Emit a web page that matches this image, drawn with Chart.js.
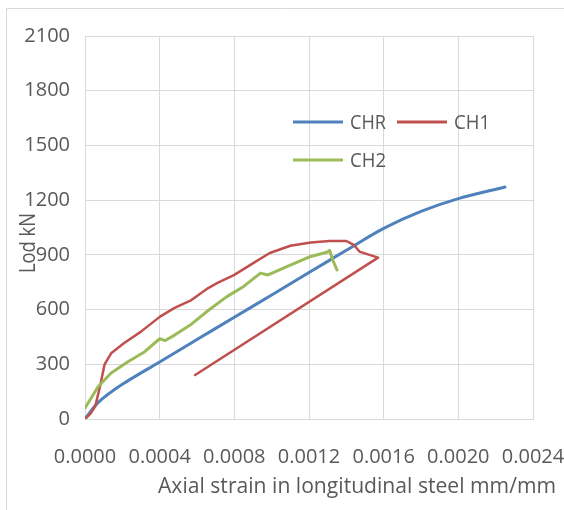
<!DOCTYPE html>
<html>
<head>
<meta charset="utf-8">
<script src="https://cdn.jsdelivr.net/npm/chart.js@4"></script>
<style>
  html, body { margin: 0; padding: 0; background: #fff; }
</style>
</head>
<body>
<canvas id="chart" width="564" height="510"></canvas>
<script>
// values
const chrStrain = [0, 0.00007, 0.0002, 0.0004, 0.0006, 0.0008, 0.001, 0.0012, 0.0014, 0.0016, 0.0018, 0.002, 0.00225];
const chrLoad   = [0, 90, 190, 313, 436, 558, 680, 803, 925, 1045, 1138, 1208, 1272];

const ch1Strain = [0, 0.00003, 0.000055, 0.00008, 0.000105, 0.00014, 0.00021, 0.0003, 0.0004, 0.00048, 0.00057, 0.00066, 0.00071, 0.0008, 0.00091, 0.00099, 0.0011, 0.00121, 0.00131, 0.0014, 0.00144, 0.00147, 0.00157, 0.00059];
const ch1Load   = [0, 30, 70, 177, 300, 360, 417, 479, 560, 609, 652, 718, 746, 790, 860, 910, 950, 968, 976, 976, 955, 918, 885, 241];

const ch2Strain = [0, 0.00007, 0.00014, 0.00023, 0.00032, 0.0004, 0.00043, 0.00048, 0.00057, 0.00066, 0.00076, 0.00085, 0.00094, 0.00098, 0.0011, 0.0012, 0.0013, 0.00131, 0.00133, 0.00135];
const ch2Load   = [60, 177, 252, 314, 369, 440, 430, 460, 520, 595, 671, 727, 800, 790, 844, 888, 916, 925, 865, 817];

const seriesNames = ['CHR', 'CH1', 'CH2'];
const seriesColors = ['#4F81BD', '#C0504D', '#9BBB59'];

const xTicks = [0, 0.0004, 0.0008, 0.0012, 0.0016, 0.002, 0.0024];
const yTicks = [0, 300, 600, 900, 1200, 1500, 1800, 2100];

const xTitle = 'Axial strain in longitudinal steel mm/mm';
const yTitle = 'Lod kN';

const FONT = "'Open Sans', 'Liberation Sans', sans-serif";
const TEXT = '#595959';
const GRID = '#d9d9d9';

function pairs(xs, ys) {
    return xs.map((x, i) => ({ x: x, y: ys[i] }));
}

// draws text squeezed/stretched horizontally to a given width
function fitText(ctx, text, x, y, size, width) {
    ctx.font = size + 'px ' + FONT;
    const w = ctx.measureText(text).width;
    ctx.save();
    ctx.translate(x, y);
    ctx.scale(width / w, 1);
    ctx.fillText(text, 0, 0);
    ctx.restore();
}

const frame = {
    id: 'frame',
    beforeDraw(chart) {
        const ctx = chart.ctx;
        ctx.save();
        ctx.fillStyle = '#fff';
        ctx.fillRect(0, 0, chart.width, chart.height);
        ctx.strokeStyle = GRID;
        ctx.lineWidth = 1;
        ctx.beginPath();
        ctx.moveTo(6.5, chart.height);
        ctx.lineTo(6.5, 8.5);
        ctx.lineTo(chart.width, 8.5);
        ctx.stroke();
        ctx.restore();
    },
    afterDraw(chart) {
        const ctx = chart.ctx;
        ctx.save();
        ctx.fillStyle = TEXT;
        ctx.textAlign = 'center';
        ctx.textBaseline = 'middle';

        // axis titles
        fitText(ctx, xTitle, 357, 487, 21, 398);

        ctx.save();
        ctx.translate(29, 243);
        ctx.rotate(-Math.PI / 2);
        fitText(ctx, yTitle, 0, 0, 21, 60);
        ctx.restore();

        // legend inside the plot
        const spots = [[293, 122], [397, 122], [293, 160]];
        ctx.textAlign = 'left';
        chart.data.datasets.forEach((ds, i) => {
            const [lx, ly] = spots[i];
            ctx.strokeStyle = ds.borderColor;
            ctx.lineWidth = 3;
            ctx.beginPath();
            ctx.moveTo(lx, ly);
            ctx.lineTo(lx + 50, ly);
            ctx.stroke();
            ctx.fillStyle = TEXT;
            fitText(ctx, ds.label, lx + 57, ly + 1, 20, 36);
        });
        ctx.restore();
    }
};

new Chart(document.getElementById('chart'), {
    type: 'line',
    data: {
        datasets: [
            { label: seriesNames[0], data: pairs(chrStrain, chrLoad), borderColor: seriesColors[0], borderWidth: 3, tension: 0.3, order: 3 },
            { label: seriesNames[1], data: pairs(ch1Strain, ch1Load), borderColor: seriesColors[1], borderWidth: 2.5, order: 2 },
            { label: seriesNames[2], data: pairs(ch2Strain, ch2Load), borderColor: seriesColors[2], borderWidth: 3, order: 1 }
        ]
    },
    options: {
        responsive: false,
        animation: false,
        events: [],
        elements: {
            point: { radius: 0 },
            line: { tension: 0, fill: false, borderCapStyle: 'round', borderJoinStyle: 'round' }
        },
        layout: { padding: { top: 36, right: 31, left: 0, bottom: 0 } },
        plugins: {
            legend: { display: false },
            tooltip: { enabled: false }
        },
        scales: {
            x: {
                type: 'linear',
                min: xTicks[0],
                max: xTicks[xTicks.length - 1],
                afterBuildTicks: s => { s.ticks = xTicks.map(v => ({ value: v })); },
                afterFit: s => { s.height = 91; s.paddingLeft = 0; s.paddingRight = 0; },
                ticks: {
                    color: TEXT,
                    font: { family: FONT, size: 20 },
                    padding: 26,
                    maxRotation: 0,
                    autoSkip: false,
                    callback: v => v.toFixed(4)
                },
                grid: { color: GRID, drawTicks: false },
                border: { color: GRID }
            },
            y: {
                min: yTicks[0],
                max: yTicks[yTicks.length - 1],
                afterBuildTicks: s => { s.ticks = yTicks.map(v => ({ value: v })); },
                afterFit: s => { s.width = 85; s.paddingTop = 0; s.paddingBottom = 0; },
                ticks: {
                    color: TEXT,
                    font: { family: FONT, size: 20 },
                    padding: 15,
                    callback: v => String(v)
                },
                grid: { color: GRID, drawTicks: false },
                border: { color: GRID }
            }
        }
    },
    plugins: [frame]
});
</script>
</body>
</html>
